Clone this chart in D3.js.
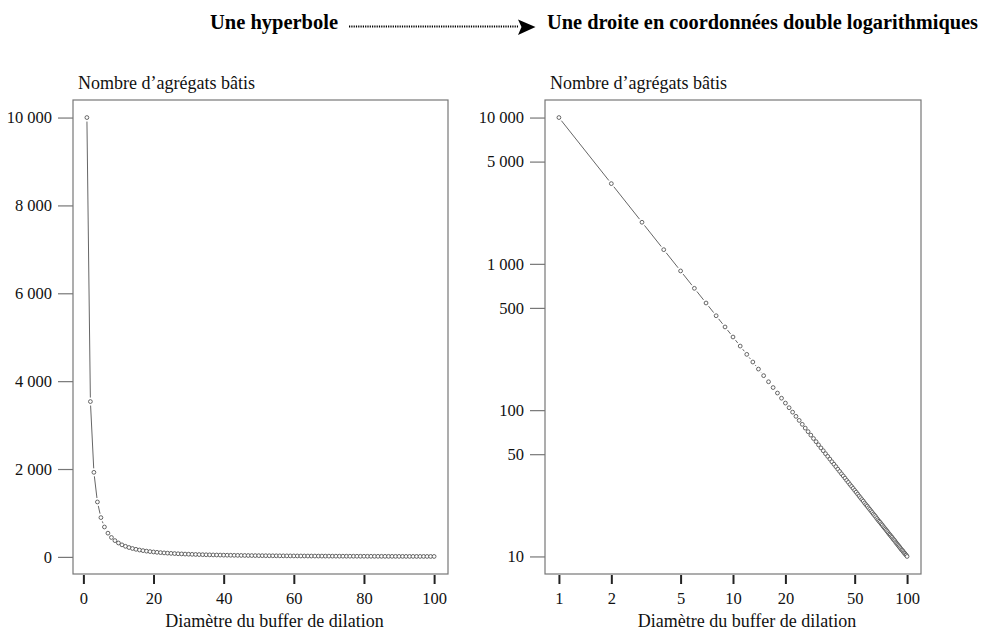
<!DOCTYPE html>
<html><head><meta charset="utf-8">
<script src="https://cdn.jsdelivr.net/npm/d3@7"></script>
<style>body{margin:0;background:#fff}</style></head>
<body>
<svg id="c" width="981" height="632"></svg>
<script>
// ---- data ----
const diametres = [1,2,3,4,5,6,7,8,9,10,11,12,13,14,15,16,17,18,19,20,21,22,23,24,25,26,27,28,29,30,
31,32,33,34,35,36,37,38,39,40,41,42,43,44,45,46,47,48,49,50,51,52,53,54,55,56,57,58,59,60,
61,62,63,64,65,66,67,68,69,70,71,72,73,74,75,76,77,78,79,80,81,82,83,84,85,86,87,88,89,90,
91,92,93,94,95,96,97,98,99,100];
const agregats = [10000,3535.5,1924.5,1250,894.4,680.4,540.0,441.9,370.4,316.2,274.1,240.6,213.3,190.9,172.1,156.3,142.7,130.9,120.7,111.8,
103.9,96.9,90.7,85.1,80.0,75.4,71.3,67.5,64.0,60.9,57.9,55.2,52.8,50.4,48.3,46.3,44.4,42.7,41.1,39.5,
38.1,36.7,35.5,34.3,33.1,32.1,31.0,30.1,29.2,28.3,27.5,26.7,25.9,25.2,24.5,23.9,23.2,22.6,22.1,21.5,
21.0,20.5,20.0,19.5,19.1,18.7,18.2,17.8,17.4,17.1,16.7,16.4,16.0,15.7,15.4,15.1,14.8,14.5,14.2,14.0,
13.7,13.5,13.2,13.0,12.8,12.5,12.3,12.1,11.9,11.7,11.5,11.3,11.1,11.0,10.8,10.6,10.5,10.3,10.2,10.0];
const ticksLinX = [0,20,40,60,80,100];
const ticksLinY = [0,2000,4000,6000,8000,10000];
const ticksLogX = [1,2,5,10,20,50,100];
const ticksLogY = [10,50,100,500,1000,5000,10000];
const titreGauche = "Une hyperbole";
const titreDroite = "Une droite en coordonnées double logarithmiques";
const labelY = "Nombre d’agrégats bâtis";
const labelX = "Diamètre du buffer de dilation";

// ---- drawing ----
const svg = d3.select("#c");
const FONT = "'Liberation Serif', 'Times New Roman', serif";
const fmt = v => d3.format(",")(v).replace(/,/g, " ");
const data = diametres.map((d, i) => ({x: d, y: agregats[i]}));

function padLin(ext) { const e = (ext[1] - ext[0]) * 0.04; return [ext[0] - e, ext[1] + e]; }
function padLog(ext) {
  const a = Math.log10(ext[0]), b = Math.log10(ext[1]), e = (b - a) * 0.04;
  return [Math.pow(10, a - e), Math.pow(10, b + e)];
}

function panel(box, xs, ys, xt, yt) {
  const g = svg.append("g");
  // y label
  g.append("text").attr("x", box.l + 5).attr("y", 89)
    .attr("font-family", FONT).attr("font-size", 18).attr("fill", "#111").text(labelY);
  // x label
  g.append("text").attr("x", (box.l + box.r) / 2 + 14).attr("y", 627).attr("text-anchor", "middle")
    .attr("font-family", FONT).attr("font-size", 18).attr("fill", "#111").text(labelX);

  // y axis
  const ya = g.append("g").attr("transform", `translate(${box.l},0)`)
    .call(d3.axisLeft(ys).tickValues(yt).tickFormat(fmt).tickSize(15).tickPadding(6));
  ya.select(".domain").remove();
  ya.selectAll("line").attr("stroke", "#777").attr("stroke-width", 1.2);
  ya.selectAll("text").attr("font-family", FONT).attr("font-size", 16.5).attr("fill", "#111");

  // x axis
  const xa = g.append("g").attr("transform", `translate(0,${box.b + 1})`)
    .call(d3.axisBottom(xs).tickValues(xt).tickFormat(fmt).tickSize(9).tickPadding(8));
  xa.select(".domain").remove();
  xa.selectAll("line").attr("stroke", "#222").attr("stroke-width", 2);
  xa.selectAll("text").attr("font-family", FONT).attr("font-size", 16.5).attr("fill", "#111");

  // box
  g.append("rect").attr("x", box.l).attr("y", box.t).attr("width", box.r - box.l)
    .attr("height", box.b - box.t).attr("fill", "none").attr("stroke", "#777").attr("stroke-width", 1.2);

  // line segments with gaps (type "b")
  const pts = data.map(d => [xs(d.x), ys(d.y)]);
  const gap = 4;
  const segs = [];
  for (let i = 0; i < pts.length - 1; i++) {
    const [x1, y1] = pts[i], [x2, y2] = pts[i + 1];
    const L = Math.hypot(x2 - x1, y2 - y1);
    if (L > 2 * gap) {
      const ux = (x2 - x1) / L, uy = (y2 - y1) / L;
      segs.push([x1 + ux * gap, y1 + uy * gap, x2 - ux * gap, y2 - uy * gap]);
    }
  }
  g.append("g").selectAll("line").data(segs).join("line")
    .attr("x1", d => d[0]).attr("y1", d => d[1]).attr("x2", d => d[2]).attr("y2", d => d[3])
    .attr("stroke", "#666").attr("stroke-width", 1);
  g.append("g").selectAll("circle").data(data).join("circle")
    .attr("cx", d => xs(d.x)).attr("cy", d => ys(d.y)).attr("r", 1.9)
    .attr("fill", "#fff").attr("stroke", "#555").attr("stroke-width", 0.9);
}

const boxL = {l: 73, r: 448, t: 100, b: 574};
const boxR = {l: 545, r: 921, t: 100, b: 574};
const xExt = d3.extent(diametres), yExt = d3.extent(agregats);

panel(boxL,
  d3.scaleLinear().domain(padLin(xExt)).range([boxL.l, boxL.r]),
  d3.scaleLinear().domain(padLin(yExt)).range([boxL.b, boxL.t]),
  ticksLinX, ticksLinY);
panel(boxR,
  d3.scaleLog().domain(padLog(xExt)).range([boxR.l, boxR.r]),
  d3.scaleLog().domain(padLog(yExt)).range([boxR.b, boxR.t]),
  ticksLogX, ticksLogY);

// title with arrow
svg.append("text").attr("x", 210).attr("y", 28.5).attr("font-family", FONT).attr("font-weight", "bold")
  .attr("font-size", 20).attr("textLength", 128).attr("lengthAdjust", "spacingAndGlyphs")
  .attr("fill", "#000").text(titreGauche);
svg.append("line").attr("x1", 349).attr("x2", 518).attr("y1", 26.5).attr("y2", 26.5)
  .attr("stroke", "#000").attr("stroke-width", 1.8).attr("stroke-dasharray", "1.2,1.1");
svg.append("path").attr("d", "M518,19.5 L535.5,27 L518,35 L521.5,27 Z").attr("fill", "#000");
svg.append("text").attr("x", 547).attr("y", 28.5).attr("font-family", FONT).attr("font-weight", "bold")
  .attr("font-size", 20).attr("textLength", 431).attr("lengthAdjust", "spacingAndGlyphs")
  .attr("fill", "#000").text(titreDroite);
</script>
</body></html>
